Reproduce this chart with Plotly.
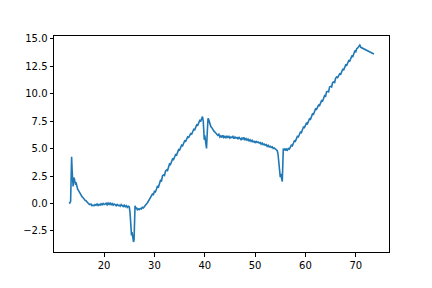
import plotly.graph_objects as go

x_vals = [
13.05, 13.2, 13.35, 13.45, 13.55, 13.65, 13.75, 13.85, 13.95, 14.05, 14.15, 14.3, 14.45, 14.6, 14.75, 14.9,
15.05, 15.2, 15.35, 15.5, 15.65, 15.8, 16.0, 16.2, 16.4, 16.6, 16.8, 17.0, 17.2, 17.4, 17.6, 17.8,
18.0, 18.2, 18.4, 18.6, 18.8, 19.0, 19.2, 19.4, 19.6, 19.8, 20.0, 20.2, 20.4, 20.6, 20.8, 21.0,
21.2, 21.4, 21.6, 21.8, 22.0, 22.2, 22.4, 22.6, 22.8, 23.0, 23.2, 23.4, 23.6, 23.8, 24.0, 24.2,
24.4, 24.6, 24.8, 25.0, 25.15, 25.3, 25.45, 25.55, 25.7, 25.85, 25.95, 26.05, 26.15, 26.3, 26.45, 26.6,
26.8, 27.0, 27.2, 27.4, 27.6, 27.8, 28.0, 28.2, 28.4, 28.6, 28.8, 29.0, 29.2, 29.4, 29.6, 29.8,
30.0, 30.2, 30.4, 30.6, 30.8, 31.0, 31.2, 31.4, 31.6, 31.8, 32.0, 32.2, 32.4, 32.6, 32.8, 33.0,
33.2, 33.4, 33.6, 33.8, 34.0, 34.2, 34.4, 34.6, 34.8, 35.0, 35.2, 35.4, 35.6, 35.8, 36.0, 36.2,
36.4, 36.6, 36.8, 37.0, 37.2, 37.4, 37.6, 37.8, 38.0, 38.2, 38.4, 38.6, 38.8, 39.0, 39.2, 39.4,
39.55, 39.7, 39.8, 39.9, 40.0, 40.1, 40.25, 40.35, 40.5, 40.65, 40.8, 41.0, 41.2, 41.4, 41.6, 41.8,
42.0, 42.2, 42.4, 42.6, 42.8, 43.0, 43.2, 43.4, 43.6, 43.8, 44.0, 44.2, 44.4, 44.6, 44.8, 45.0,
45.2, 45.4, 45.6, 45.8, 46.0, 46.2, 46.4, 46.6, 46.8, 47.0, 47.2, 47.4, 47.6, 47.8, 48.0, 48.2,
48.4, 48.6, 48.8, 49.0, 49.2, 49.4, 49.6, 49.8, 50.0, 50.2, 50.4, 50.6, 50.8, 51.0, 51.2, 51.4,
51.6, 51.8, 52.0, 52.2, 52.4, 52.6, 52.8, 53.0, 53.2, 53.4, 53.6, 53.8, 54.0, 54.2, 54.4, 54.55,
54.7, 54.85, 55.0, 55.1, 55.25, 55.4, 55.5, 55.6, 55.75, 55.9, 56.05, 56.2, 56.4, 56.6, 56.8, 57.0,
57.2, 57.4, 57.6, 57.8, 58.0, 58.2, 58.4, 58.6, 58.8, 59.0, 59.2, 59.4, 59.6, 59.8, 60.0, 60.2,
60.4, 60.6, 60.8, 61.0, 61.2, 61.4, 61.6, 61.8, 62.0, 62.2, 62.4, 62.6, 62.8, 63.0, 63.2, 63.4,
63.6, 63.8, 64.0, 64.2, 64.4, 64.6, 64.8, 65.0, 65.2, 65.4, 65.6, 65.8, 66.0, 66.2, 66.4, 66.6,
66.8, 67.0, 67.2, 67.4, 67.6, 67.8, 68.0, 68.2, 68.4, 68.6, 68.8, 69.0, 69.2, 69.4, 69.6, 69.8,
70.0, 70.2, 70.4, 70.6, 70.8, 71.0, 71.2, 71.5, 72.0, 72.5, 73.0, 73.6,
]

y_vals = [
0.0, 0.05, 0.2, 2.5, 4.25, 3.0, 1.6, 1.55, 2.2, 2.35, 2.1, 1.8, 1.85, 1.5, 1.3, 1.2,
1.05, 0.95, 0.8, 0.72, 0.6, 0.55, 0.4, 0.3, 0.25, 0.1, 0.05, -0.05, -0.1, -0.05, -0.2, -0.15,
-0.2, -0.1, -0.15, -0.05, -0.18, -0.08, -0.15, -0.02, -0.12, 0.0, -0.1, -0.05, 0.02, -0.12, 0.05, -0.08,
0.03, -0.1, 0.0, -0.15, -0.05, -0.1, -0.2, -0.08, -0.18, -0.15, -0.25, -0.1, -0.2, -0.28, -0.15, -0.3,
-0.2, -0.35, -0.25, -0.3, -0.8, -2.6, -2.9, -2.6, -3.1, -3.5, -3.3, -0.4, -0.2, -0.45, -0.35, -0.6,
-0.5, -0.55, -0.45, -0.5, -0.35, -0.4, -0.25, -0.2, -0.05, 0.05, 0.2, 0.3, 0.45, 0.6, 0.85, 0.8,
1.1, 1.05, 1.4, 1.55, 1.5, 1.85, 2.1, 2.05, 2.5, 2.6, 2.55, 2.95, 3.05, 3.0, 3.4, 3.6,
3.55, 3.85, 4.05, 4.0, 4.3, 4.45, 4.4, 4.8, 4.9, 4.85, 5.2, 5.3, 5.25, 5.55, 5.7, 5.65,
5.95, 6.05, 6.0, 6.25, 6.35, 6.3, 6.65, 6.75, 6.7, 7.05, 7.15, 7.1, 7.4, 7.55, 7.5, 7.8,
7.9, 7.5, 6.1, 5.8, 6.2, 5.9, 5.3, 5.0, 6.5, 7.75, 7.6, 7.2, 7.0, 6.9, 6.7, 6.6,
6.5, 6.35, 6.3, 6.2, 6.3, 6.05, 6.15, 6.0, 6.2, 6.0, 6.1, 5.95, 6.15, 6.0, 6.1, 5.95,
6.05, 6.0, 6.1, 5.9, 6.05, 5.95, 6.0, 5.85, 6.05, 5.9, 5.8, 5.95, 5.85, 6.0, 5.8, 5.9,
5.75, 5.85, 5.7, 5.8, 5.65, 5.75, 5.6, 5.65, 5.55, 5.65, 5.55, 5.6, 5.5, 5.55, 5.4, 5.5,
5.35, 5.4, 5.3, 5.35, 5.2, 5.3, 5.15, 5.2, 5.1, 5.15, 5.0, 5.05, 4.95, 4.9, 4.8, 4.5,
3.5, 2.6, 2.4, 2.7, 2.3, 2.0, 3.5, 5.0, 4.85, 5.0, 4.8, 4.95, 4.85, 5.0, 4.95, 5.15,
5.3, 5.25, 5.5, 5.7, 5.65, 5.95, 6.1, 6.05, 6.35, 6.5, 6.45, 6.8, 6.95, 6.9, 7.15, 7.3,
7.25, 7.55, 7.7, 7.65, 8.0, 8.15, 8.1, 8.45, 8.6, 8.55, 8.85, 8.95, 8.9, 9.25, 9.35, 9.3,
9.7, 9.8, 9.75, 10.15, 10.2, 10.15, 10.6, 10.65, 10.6, 11.0, 11.05, 11.0, 11.4, 11.5, 11.45, 11.7,
11.8, 11.75, 12.1, 12.2, 12.15, 12.5, 12.6, 12.55, 12.85, 13.0, 12.95, 13.2, 13.4, 13.35, 13.65, 13.85,
13.8, 14.1, 14.15, 14.3, 14.4, 14.2, 14.15, 14.05, 13.95, 13.85, 13.75, 13.6,
]

x_ticks = [20, 30, 40, 50, 60, 70]
y_ticks = [-2.5, 0.0, 2.5, 5.0, 7.5, 10.0, 12.5, 15.0]

fig = go.Figure()
fig.add_trace(go.Scatter(x=x_vals, y=y_vals, mode="lines",
                         line=dict(color="#1f77b4", width=1.6),
                         showlegend=False))

axis_common = dict(showline=True, linecolor="black", linewidth=1, mirror=True,
                   ticks="outside", ticklen=3.5, tickwidth=1, tickcolor="black",
                   showgrid=False, zeroline=False,
                   tickfont=dict(family="DejaVu Sans", size=10, color="black"))

fig.update_layout(
    width=432, height=288,
    margin=dict(l=54, r=43, t=36, b=36, pad=0),
    paper_bgcolor="white", plot_bgcolor="white",
    xaxis=dict(range=[10.05, 76.6], tickvals=x_ticks,
               ticktext=[str(v) for v in x_ticks], **axis_common),
    yaxis=dict(range=[-4.41, 15.23], tickvals=y_ticks,
               ticktext=[f"{v:.1f}".replace("-", "\u2212") for v in y_ticks], **axis_common),
)

fig.write_html("out.html")
